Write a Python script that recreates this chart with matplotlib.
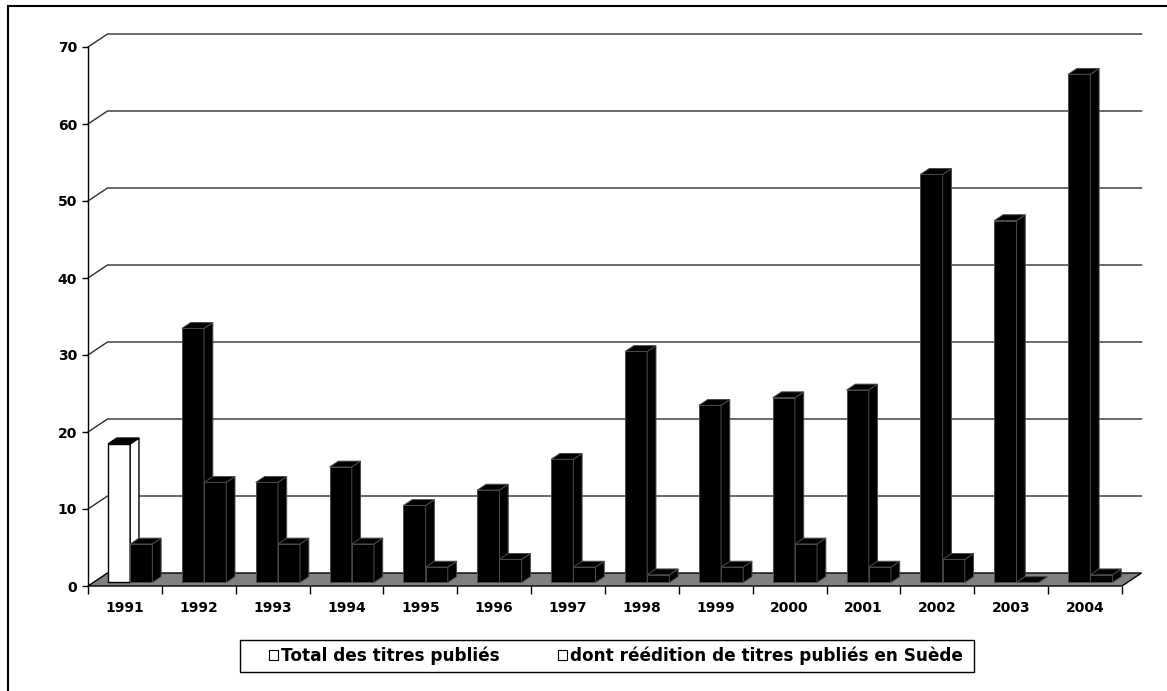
import matplotlib
matplotlib.use("Agg")
import matplotlib.pyplot as plt
from matplotlib.patches import Polygon, Rectangle, Patch

# Published titles per year
years = ["1991", "1992", "1993", "1994", "1995", "1996", "1997",
         "1998", "1999", "2000", "2001", "2002", "2003", "2004"]
total_titles = [18, 33, 13, 15, 10, 12, 16, 30, 23, 24, 25, 53, 47, 66]
reeditions = [5, 13, 5, 5, 2, 3, 2, 1, 2, 5, 2, 3, 0, 1]
y_ticks = [0, 10, 20, 30, 40, 50, 60, 70]
series_labels = ["Total des titres publiés",
                 "dont réédition de titres publiés en Suède"]

W, H = 1167, 691
fig = plt.figure(figsize=(W / 100, H / 100), dpi=100)

# front plane of the 3-D plot area, in pixels
left, right, bottom, top = 88, 1122, 586, 47
ax = fig.add_axes([left / W, 1 - bottom / H, (right - left) / W, (bottom - top) / H])
n = len(years)
ymax = y_ticks[-1]
ax.set_xlim(0, n)
ax.set_ylim(0, ymax)

# oblique depth offset, converted to data units
px_per_cat = (right - left) / n
px_per_unit = (bottom - top) / ymax
DX = 19.5 / px_per_cat
DY = 13.0 / px_per_unit


def proj(x, v, d):
    return (x + d * DX, v + d * DY)


# left wall + back wall gridlines
for v in y_ticks[1:]:
    pts = [proj(0, v, 0), proj(0, v, 1), proj(n, v, 1)]
    ax.plot([p[0] for p in pts], [p[1] for p in pts], color="#2e2e2e",
            lw=1.0, clip_on=False, zorder=1)

# floor
floor = Polygon([proj(0, 0, 0), proj(n, 0, 0), proj(n, 0, 1), proj(0, 0, 1)],
                closed=True, facecolor="#808080", edgecolor="black", lw=1.0,
                clip_on=False, zorder=1.2)
ax.add_patch(floor)

# columns
d0, d1 = 0.27, 0.72
bar_w = 0.3
gap = (1 - 2 * bar_w) / 2
for i in range(n):
    for s, vals in enumerate((total_titles, reeditions)):
        v = vals[i]
        x0 = i + gap + s * bar_w
        x1 = x0 + bar_w
        front = [proj(x0, 0, d0), proj(x1, 0, d0), proj(x1, v, d0), proj(x0, v, d0)]
        side = [proj(x1, 0, d0), proj(x1, 0, d1), proj(x1, v, d1), proj(x1, v, d0)]
        topf = [proj(x0, v, d0), proj(x1, v, d0), proj(x1, v, d1), proj(x0, v, d1)]
        hollow = (s == 0 and i == 0)
        fc = "white" if hollow else "black"
        ec = "black" if hollow else "#4a4a4a"
        z = 3 + i * 2 + s
        for poly, col in ((front, fc), (side, fc), (topf, "black")):
            ax.add_patch(Polygon(poly, closed=True, facecolor=col, edgecolor=ec,
                                 lw=1.0 if hollow else 0.7, clip_on=False,
                                 zorder=z, joinstyle="miter"))

# axes styling
for name in ("top", "right", "bottom"):
    ax.spines[name].set_visible(False)
ax.spines["left"].set_color("black")
ax.spines["left"].set_linewidth(1.0)
ax.spines["left"].set_zorder(2)
ax.patch.set_visible(False)

ax.set_yticks(y_ticks)
ax.set_yticklabels([str(t) for t in y_ticks])
ax.tick_params(axis="y", direction="out", length=4, width=1, pad=4,
               labelsize=10, colors="black")
for lab in ax.get_yticklabels():
    lab.set_fontweight("bold")

ax.set_xticks(range(n + 1))
ax.set_xticklabels([""] * (n + 1))
ax.set_xticks([i + 0.5 for i in range(n)], minor=True)
ax.set_xticklabels(years, minor=True)
ax.tick_params(axis="x", which="major", direction="out", length=6, width=1)
ax.tick_params(axis="x", which="minor", length=0, pad=10.5, labelsize=10)
for lab in ax.get_xticklabels(minor=True):
    lab.set_fontweight("bold")

# legend with its own frame
fig.patches.append(Rectangle((240 / W, 1 - 672 / H), (974 - 240) / W, 32 / H,
                             transform=fig.transFigure, facecolor="white",
                             edgecolor="black", lw=1.0, zorder=5))
handles = [Patch(facecolor="white", edgecolor="black", lw=0.8, label=l)
           for l in series_labels]
leg = fig.legend(handles=handles, loc="center",
                 bbox_to_anchor=(616 / W, 1 - 656 / H), ncol=2,
                 prop={"weight": "bold", "size": 12.2},
                 frameon=False,
                 handlelength=0.55, handleheight=0.55, handletextpad=0.2,
                 columnspacing=3.4, borderpad=0.2)
leg.set_zorder(6)

# outer chart border
fig.patches.append(Rectangle((8 / W, -0.1), 1.2, 1.1 - 6 / H, transform=fig.transFigure,
                             fill=False, edgecolor="black", lw=1.5))

fig.savefig("out.png", dpi=100)
